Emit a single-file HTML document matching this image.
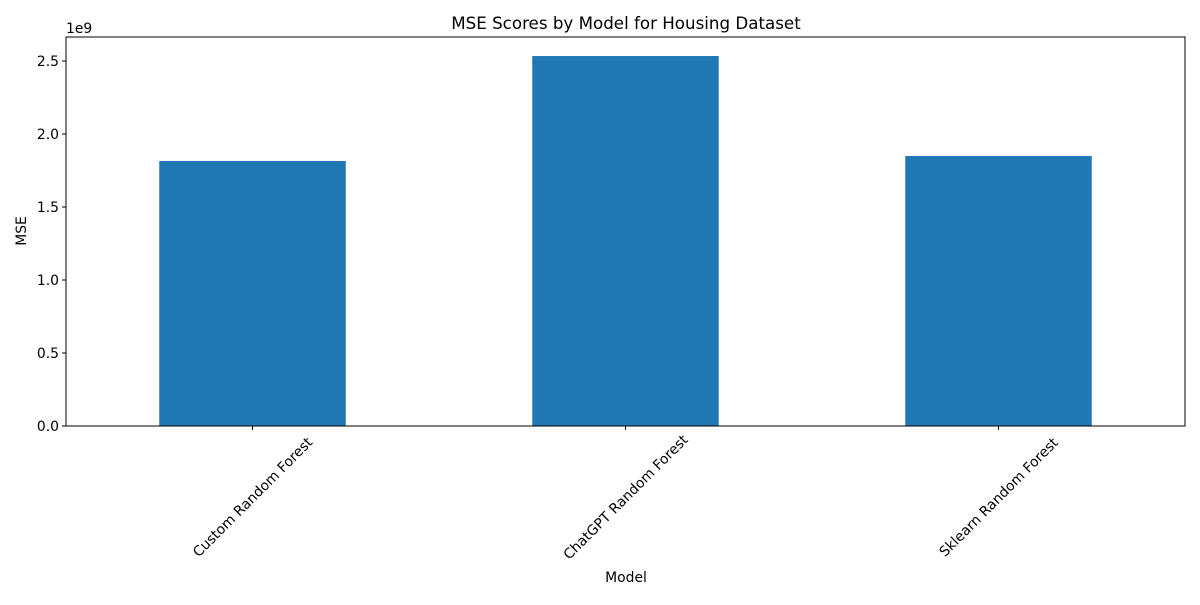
<!DOCTYPE html>
<html><head><meta charset="utf-8"><style>
body{margin:0;background:#fff;}
svg text{font-family:"DejaVu Sans","Liberation Sans",sans-serif;fill:#000;}
</style></head><body>
<svg id="chart" width="1200" height="600" xmlns="http://www.w3.org/2000/svg">
<text x="626" y="29" font-size="16.7" text-anchor="middle">MSE Scores by Model for Housing Dataset</text>
<g id="plot"></g>
<text x="626" y="582" font-size="13.9" text-anchor="middle">Model</text>
<text transform="translate(26,231) rotate(-90)" font-size="13.9" text-anchor="middle">MSE</text>
<text x="66" y="33" font-size="13.9">1e9</text>
</svg>
<script>
const categories = ["Custom Random Forest","ChatGPT Random Forest","Sklearn Random Forest"];
const mseValues = [1.815, 2.534, 1.849];
const yTicks = [0, 0.5, 1.0, 1.5, 2.0, 2.5];
const yTickLabels = ["0.0","0.5","1.0","1.5","2.0","2.5"];

const L=66,R=1185,T=37,B=426;
const yScale=v=>B-v*146;
const band=(R-L)/categories.length;
const xCenter=i=>L+band*(i+0.5);
const g=document.getElementById('plot');
const NS="http://www.w3.org/2000/svg";
function mk(tag,attrs){const e=document.createElementNS(NS,tag);for(const k in attrs)e.setAttribute(k,attrs[k]);g.appendChild(e);return e;}

mseValues.forEach((v,i)=>{
  const w=band*0.5;
  const r=mk('rect',{x:xCenter(i)-w/2,y:yScale(v),width:w,height:B-yScale(v),fill:'#1f77b4'});
  
  
});
const frame=mk('rect',{x:L,y:T,width:R-L,height:B-T,fill:'none',stroke:'#000','stroke-width':1});



yTicks.forEach((t,i)=>{
  const y=yScale(t);
  const tk=mk('line',{x1:L-4,x2:L,y1:y,y2:y,stroke:'#000'});
  
  
  const lb=mk('text',{x:L-7,y:y+5,'font-size':13.9,'text-anchor':'end'});
  lb.textContent=yTickLabels[i];
  
  
});
categories.forEach((c,i)=>{
  const x=xCenter(i);
  const tk=mk('line',{x1:x,x2:x,y1:B,y2:B+4,stroke:'#000'});
  
  
  const lb=mk('text',{transform:`translate(${x},${B+71}) rotate(-45)`,'font-size':13.9,'text-anchor':'middle',dy:'0.35em'});
  lb.textContent=c;
  
  
});
</script>
</body></html>
